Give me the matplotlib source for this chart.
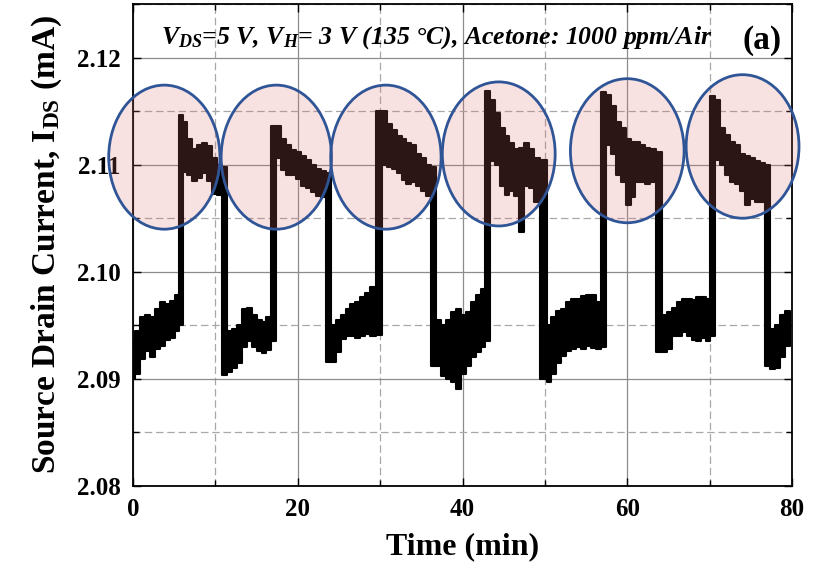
import numpy as np
import matplotlib.pyplot as plt
from matplotlib.patches import Ellipse
from matplotlib.ticker import MultipleLocator, FormatStrFormatter

# -------------------------------
# data (time in min, I_DS band in mA)
# -------------------------------
time_min = [0.0, 0.6, 1.2, 1.8, 2.4, 3.0, 3.6, 4.2, 4.8, 5.3,
            5.8, 6.3, 6.9, 7.5, 8.1, 8.7, 9.3, 9.9, 10.5,
            11.1, 11.7, 12.3, 12.9, 13.5, 14.1, 14.7, 15.3, 15.9, 16.5,
            17.1, 17.7, 18.3, 18.9, 19.5, 20.1, 20.7, 21.3, 21.9, 22.5, 23.1,
            23.7, 24.3, 24.9, 25.5, 26.1, 26.7, 27.3, 27.9, 28.5, 29.1,
            29.9, 30.5, 31.1, 31.7, 32.3, 32.9, 33.5, 34.1, 34.7, 35.3, 35.9,
            36.5, 37.1, 37.7, 38.3, 38.9, 39.5, 40.1, 40.7, 41.3, 41.9, 42.5,
            43.0, 43.6, 44.2, 44.8, 45.4, 46.0, 46.6, 47.2, 47.8, 48.4, 49.0,
            49.9, 50.5, 51.1, 51.7, 52.3, 52.9, 53.5, 54.1, 54.7, 55.3, 55.9, 56.5,
            57.1, 57.7, 58.3, 58.9, 59.5, 60.1, 60.7, 61.3, 61.9, 62.5, 63.1,
            63.9, 64.5, 65.1, 65.7, 66.3, 66.9, 67.5, 68.1, 68.7, 69.3, 69.8,
            70.4, 71.0, 71.6, 72.2, 72.8, 73.4, 74.0, 74.6, 75.2, 75.8, 76.4,
            77.0, 77.6, 78.2, 78.8, 79.4, 79.8]

ids_low = [2.0900, 2.0905, 2.0919, 2.0926, 2.0920, 2.0928, 2.0931, 2.0936, 2.0938, 2.0945,
           2.0950, 2.1093, 2.1090, 2.1085, 2.1088, 2.1092, 2.1085, 2.1073, 2.1072,
           2.0904, 2.0906, 2.0910, 2.0915, 2.0930, 2.0935, 2.0930, 2.0926, 2.0924, 2.0927,
           2.0935, 2.1106, 2.1095, 2.1090, 2.1090, 2.1087, 2.1080, 2.1078, 2.1074, 2.1071, 2.1070,
           2.0916, 2.0916, 2.0925, 2.0937, 2.0940, 2.0940, 2.0938, 2.0940, 2.0942, 2.0940,
           2.0941, 2.1100, 2.1098, 2.1096, 2.1092, 2.1086, 2.1082, 2.1084, 2.1080, 2.1075, 2.1071,
           2.0912, 2.0912, 2.0903, 2.0900, 2.0897, 2.0891, 2.0905, 2.0912, 2.0920, 2.0925, 2.0930,
           2.0935, 2.1103, 2.1100, 2.1080, 2.1072, 2.1075, 2.1071, 2.1037, 2.1080, 2.1078, 2.1065,
           2.0900, 2.0897, 2.0905, 2.0915, 2.0921, 2.0926, 2.0928, 2.0930, 2.0928, 2.0931, 2.0929, 2.0928,
           2.0930, 2.1118, 2.1110, 2.1090, 2.1084, 2.1062, 2.1070, 2.1084, 2.1084, 2.1082, 2.1084,
           2.0925, 2.0925, 2.0928, 2.0940, 2.0940, 2.0944, 2.0940, 2.0936, 2.0935, 2.0938, 2.0935,
           2.0940, 2.1104, 2.1100, 2.1090, 2.1084, 2.1082, 2.1075, 2.1062, 2.1068, 2.1065, 2.1065,
           2.0912, 2.0909, 2.0910, 2.0920, 2.0931, 2.0931]

ids_high = [2.0935, 2.0945, 2.0958, 2.0960, 2.0958, 2.0965, 2.0972, 2.0970, 2.0973, 2.0978,
            2.1146, 2.1140, 2.1124, 2.1115, 2.1118, 2.1120, 2.1117, 2.1106, 2.1100,
            2.1098, 2.0945, 2.0947, 2.0950, 2.0965, 2.0966, 2.0960, 2.0955, 2.0953, 2.0958,
            2.1136, 2.1136, 2.1124, 2.1118, 2.1114, 2.1112, 2.1108, 2.1104, 2.1100, 2.1096, 2.1094,
            2.1092, 2.0950, 2.0955, 2.0960, 2.0965, 2.0970, 2.0972, 2.0976, 2.0980, 2.0986,
            2.1150, 2.1150, 2.1138, 2.1132, 2.1127, 2.1124, 2.1120, 2.1118, 2.1110, 2.1106, 2.1100,
            2.1098, 2.0955, 2.0950, 2.0955, 2.0962, 2.0965, 2.0960, 2.0962, 2.0972, 2.0978, 2.0984,
            2.1169, 2.1160, 2.1148, 2.1134, 2.1127, 2.1120, 2.1115, 2.1116, 2.1120, 2.1115, 2.1106,
            2.1104, 2.0950, 2.0958, 2.0963, 2.0965, 2.0972, 2.0975, 2.0975, 2.0977, 2.0978, 2.0978, 2.0972,
            2.1168, 2.1165, 2.1155, 2.1140, 2.1134, 2.1124, 2.1121, 2.1121, 2.1118, 2.1116, 2.1115,
            2.1112, 2.0960, 2.0962, 2.0966, 2.0972, 2.0975, 2.0975, 2.0974, 2.0976, 2.0976, 2.0975,
            2.1164, 2.1160, 2.1134, 2.1128, 2.1121, 2.1118, 2.1110, 2.1108, 2.1106, 2.1103, 2.1102,
            2.1100, 2.0947, 2.0950, 2.0960, 2.0963, 2.0963]

# highlighted response regions: (center time, center current, width, height)
highlights = [(3.8, 2.1107, 13.5, 0.01345),
              (17.4, 2.1107, 13.4, 0.01345),
              (30.7, 2.1107, 13.4, 0.01345),
              (44.4, 2.1110, 13.7, 0.01345),
              (60.0, 2.1113, 13.8, 0.01345),
              (74.0, 2.1117, 13.7, 0.01340)]

x_ticks = [0, 20, 40, 60, 80]
y_ticks = [2.08, 2.09, 2.10, 2.11, 2.12]

# -------------------------------
# style
# -------------------------------
plt.rcParams['font.family'] = ['Liberation Serif', 'DejaVu Serif']
plt.rcParams['font.weight'] = 'bold'
plt.rcParams['mathtext.fontset'] = 'custom'
plt.rcParams['mathtext.rm'] = 'Liberation Serif:bold'
plt.rcParams['mathtext.bf'] = 'Liberation Serif:bold'
plt.rcParams['mathtext.it'] = 'Liberation Serif:bold:italic'

fig = plt.figure(figsize=(8.17, 5.69), dpi=100)
ax = fig.add_axes([0.1628, 0.1459, 0.8066, 0.8471])

# signal band
ax.fill_between(time_min, ids_low, ids_high, step='mid', color='black',
                linewidth=1.5, edgecolor='black', zorder=2)

# highlight ellipses
for cx, cy, w, h in highlights:
    ax.add_patch(Ellipse((cx, cy), w, h, facecolor=(0.85, 0.42, 0.42, 0.2),
                         edgecolor='#2f5597', linewidth=2.0, zorder=3, clip_on=False))

ax.set_xlim(0, 80)
ax.set_ylim(2.08, 2.125)
ax.set_xticks(x_ticks)
ax.set_yticks(y_ticks)
ax.xaxis.set_minor_locator(MultipleLocator(10))
ax.yaxis.set_minor_locator(MultipleLocator(0.005))
ax.yaxis.set_major_formatter(FormatStrFormatter('%.2f'))

ax.grid(which='major', color='#8c8c8c', linewidth=0.9, linestyle='-', zorder=0)
ax.grid(which='minor', color='#a8a8a8', linewidth=0.9, linestyle=(0, (6, 3)), zorder=0)
ax.set_axisbelow(True)

ax.tick_params(which='both', direction='in', top=True, right=True, width=1.0)
ax.tick_params(which='major', length=6, labelsize=18)
ax.tick_params(axis='y', which='major', pad=9)
ax.tick_params(axis='x', which='major', pad=9)
ax.tick_params(which='minor', length=4)
for s in ax.spines.values():
    s.set_linewidth(1.3)

ax.set_xlabel('Time (min)', fontsize=23, fontweight='bold', labelpad=8)
ax.set_ylabel(r'Source Drain Current, I$_{\rm DS}$ (mA)', fontsize=24,
              fontweight='bold', labelpad=9)

ax.text(0.461, 0.93, r'$V_{DS}$=5 V, $V_H$= 3 V (135 °C), Acetone: 1000 ppm/Air',
        transform=ax.transAxes, ha='center', va='center', fontsize=18.5,
        fontstyle='italic', fontweight='bold')
ax.text(0.955, 0.925, '(a)', transform=ax.transAxes, ha='center', va='center',
        fontsize=24, fontweight='bold')

fig.savefig('out.png', dpi=100)
